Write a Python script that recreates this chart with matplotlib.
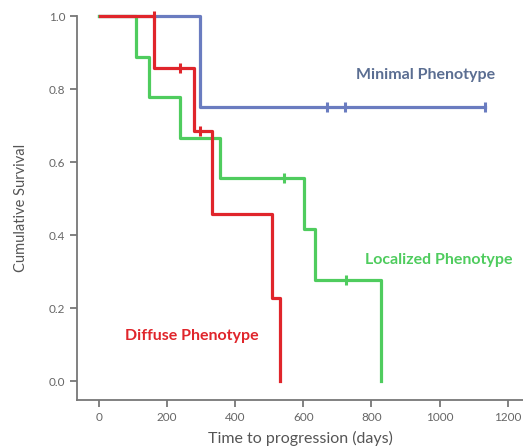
import matplotlib
matplotlib.use("Agg")
import matplotlib.pyplot as plt

# -------------------------------
# Kaplan-Meier step data (days, survival)
# -------------------------------

minimal_t = [0, 296, 1133]
minimal_s = [1.0, 0.75, 0.75]
minimal_cens_t = [670, 723, 1133]
minimal_cens_s = [0.75, 0.75, 0.75]

diffuse_t = [3, 161, 279, 331, 509, 533]
diffuse_s = [1.0, 0.857, 0.686, 0.457, 0.229, 0.0]
diffuse_cens_t = [161, 238, 296]
diffuse_cens_s = [1.0, 0.857, 0.686]

localized_t = [0, 108, 146, 238, 356, 603, 635, 829]
localized_s = [1.0, 0.889, 0.778, 0.667, 0.556, 0.417, 0.278, 0.0]
localized_cens_t = [542, 726]
localized_cens_s = [0.556, 0.278]

x_ticks = [0, 200, 400, 600, 800, 1000, 1200]
y_ticks = [0.0, 0.2, 0.4, 0.6, 0.8, 1.0]

BLUE = "#6a7cc0"
RED = "#e0252b"
GREEN = "#4fcc5e"

plt.rcParams["font.family"] = ["Lato", "DejaVu Sans"]

fig = plt.figure(figsize=(5.23, 4.47), dpi=100)
ax = fig.add_axes([0.1472, 0.105, 0.853, 0.859])


def km(t, s, ct, cs, color):
    ax.step(t, s, where="post", color=color, lw=2.3, clip_on=False, zorder=3)
    ax.plot(ct, cs, ls="none", marker="|", ms=7, mew=2.2, color=color,
            clip_on=False, zorder=4)


km(minimal_t, minimal_s, minimal_cens_t, minimal_cens_s, BLUE)
km(localized_t, localized_s, localized_cens_t, localized_cens_s, GREEN)
km(diffuse_t, diffuse_s, diffuse_cens_t, diffuse_cens_s, RED)

ax.set_xlim(-64, 1245)
ax.set_ylim(-0.052, 1.0)
ax.set_xticks(x_ticks)
ax.set_yticks(y_ticks)
ax.set_yticklabels([f"{v:.1f}" for v in y_ticks])

for side in ["top", "right"]:
    ax.spines[side].set_visible(False)
for side in ["left", "bottom"]:
    ax.spines[side].set_color("#777777")
    ax.spines[side].set_linewidth(1.3)
ax.tick_params(colors="#777777", labelcolor="#666666", labelsize=8.5,
               length=5, width=1.3)

ax.set_xlabel("Time to progression (days)", fontsize=11.5, color="#555555",
              labelpad=6)
ax.set_ylabel("Cumulative Survival", fontsize=10.5, color="#555555",
              labelpad=15)

ax.text(958, 0.838, "Minimal Phenotype", color="#5b6e92", fontsize=11.5,
        fontweight="bold", ha="center", va="center")
ax.text(998, 0.331, "Localized Phenotype", color=GREEN, fontsize=11.5,
        fontweight="bold", ha="center", va="center")
ax.text(273, 0.123, "Diffuse Phenotype", color=RED, fontsize=11.5,
        fontweight="bold", ha="center", va="center")

fig.savefig("out.png", dpi=100)
